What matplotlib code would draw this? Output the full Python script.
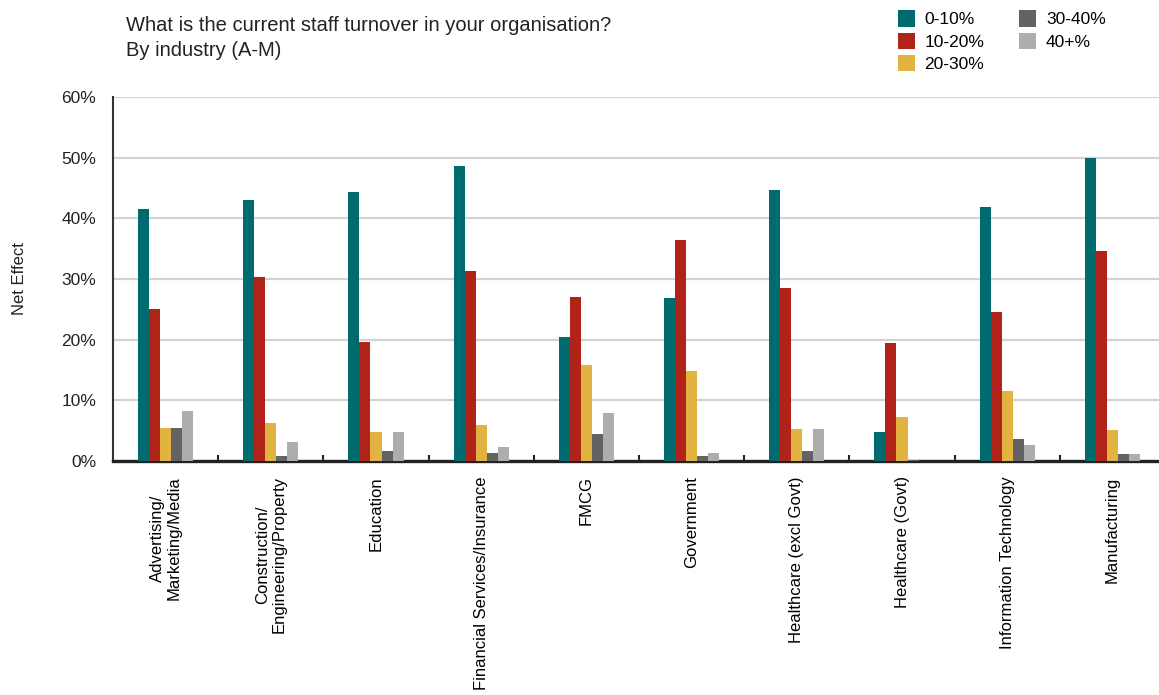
import numpy as np
import matplotlib
matplotlib.use('Agg')
from matplotlib import pyplot as plt
from matplotlib.ticker import PercentFormatter, FixedLocator

plt.rcParams['font.family'] = ['Liberation Sans', 'DejaVu Sans']

industries = ['Advertising/\nMarketing/Media', 'Construction/\nEngineering/Property',
              'Education', 'Financial Services/Insurance', 'FMCG', 'Government',
              'Healthcare (excl Govt)', 'Healthcare (Govt)', 'Information Technology',
              'Manufacturing']
bands = ['0-10%', '10-20%', '20-30%', '30-40%', '40+%']

# values in %
v_0_10 = [41.6, 43.1, 44.3, 48.7, 20.4, 26.8, 44.6, 4.7, 41.8, 50.0]
v_10_20 = [25.0, 30.4, 19.6, 31.3, 27.1, 36.4, 28.5, 19.4, 24.5, 34.6]
v_20_30 = [5.4, 6.2, 4.7, 6.0, 15.8, 14.9, 5.2, 7.2, 11.6, 5.1]
v_30_40 = [5.4, 0.9, 1.6, 1.3, 4.4, 0.9, 1.6, 0.1, 3.6, 1.1]
v_40_plus = [8.2, 3.1, 4.7, 2.3, 7.9, 1.4, 5.2, 0.0, 2.6, 1.1]

colors = ['#006B6E', '#B02318', '#E3B342', '#636363', '#ADADAD']

fig = plt.figure(figsize=(11.59, 6.95), dpi=100)
ax = fig.add_axes([0.0975, 0.3367, 0.9077, 0.5237])

x = np.arange(len(industries))
w = 0.105
series = [v_0_10, v_10_20, v_20_30, v_30_40, v_40_plus]
for i, (vals, c, lab) in enumerate(zip(series, colors, bands)):
    ax.bar(x + (i - 2) * w, np.array(vals) / 100, width=w, color=c, label=lab,
           zorder=3, linewidth=0)

ax.set_xlim(-0.5, len(industries) - 0.5)
ax.set_ylim(0, 0.6)
ax.yaxis.set_major_locator(FixedLocator(np.arange(0, 0.61, 0.1)))
ax.yaxis.set_major_formatter(PercentFormatter(1.0, decimals=0))
ax.grid(axis='y', color='#D3D3D3', linewidth=1.6, zorder=0)
ax.set_axisbelow(True)

ax.set_xticks(x)
ax.set_xticklabels(industries, rotation=90, ha='center', va='top',
                   fontsize=12, linespacing=1.15)
ax.xaxis.set_minor_locator(FixedLocator(x[:-1] + 0.5))
ax.tick_params(axis='x', which='major', length=0, pad=11)
ax.tick_params(axis='x', which='minor', direction='in', length=4.5, width=1.5,
               color='#222222')
ax.tick_params(axis='y', length=0, labelsize=12.5, pad=12, colors='#222222')

for s in ('top', 'right'):
    ax.spines[s].set_visible(False)
ax.spines['left'].set_linewidth(1.5)
ax.spines['left'].set_color('#333333')
ax.spines['bottom'].set_linewidth(2.4)
ax.spines['bottom'].set_color('#222222')

ax.set_ylabel('Net Effect', fontsize=12, labelpad=25, color='#222222')

fig.text(0.1087, 0.977, 'What is the current staff turnover in your organisation?\nBy industry (A-M)',
         fontsize=14.5, va='top', ha='left', color='#222222', linespacing=1.38)

fig.legend(loc='upper left', bbox_to_anchor=(0.761, 1.0075), ncol=2, frameon=False,
           fontsize=12.5, handlelength=1.0, handleheight=1.05, handletextpad=0.55,
           columnspacing=2.0, labelspacing=0.3)

fig.savefig('out.png', dpi=100)
